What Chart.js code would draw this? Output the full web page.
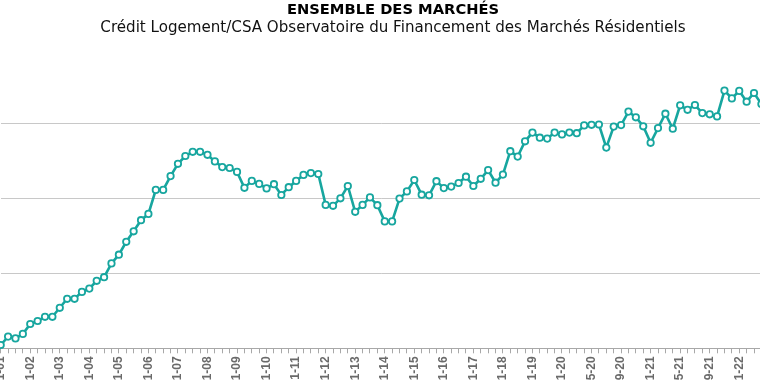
<!DOCTYPE html>
<html>
<head>
<meta charset="utf-8">
<script src="https://cdn.jsdelivr.net/npm/chart.js@4"></script>
<style>
  html, body { margin: 0; padding: 0; width: 760px; height: 380px; overflow: hidden; background: #ffffff; }
  #wrap { position: absolute; left: -10px; top: 0; width: 800px; height: 420px; }
</style>
</head>
<body>
<div id="wrap"><canvas id="c" width="800" height="420"></canvas></div>
<script>
const titleText = "ENSEMBLE DES MARCHÉS";
const subtitleText = "Crédit Logement/CSA Observatoire du Financement des Marchés Résidentiels";

const categories = [
  "01-01","04-01","07-01","10-01","01-02","04-02","07-02","10-02","01-03","04-03","07-03","10-03",
  "01-04","04-04","07-04","10-04","01-05","04-05","07-05","10-05","01-06","04-06","07-06","10-06",
  "01-07","04-07","07-07","10-07","01-08","04-08","07-08","10-08","01-09","04-09","07-09","10-09",
  "01-10","04-10","07-10","10-10","01-11","04-11","07-11","10-11","01-12","04-12","07-12","10-12",
  "01-13","04-13","07-13","10-13","01-14","04-14","07-14","10-14","01-15","04-15","07-15","10-15",
  "01-16","04-16","07-16","10-16","01-17","04-17","07-17","10-17","01-18","04-18","07-18","10-18",
  "01-19","04-19","07-19","10-19",
  "01-20","02-20","03-20","04-20","05-20","06-20","07-20","08-20","09-20","10-20","11-20","12-20",
  "01-21","02-21","03-21","04-21","05-21","06-21","07-21","08-21","09-21","10-21","11-21","12-21",
  "01-22","02-22","03-22","04-22"
];

const values = [
  151.1,153.9,153.3,154.8,158.1,159.1,160.5,160.5,163.5,166.5,
  166.5,168.8,169.9,172.5,173.7,178.3,181.2,185.5,189.0,192.7,
  194.8,202.8,202.8,207.4,211.5,214.1,215.5,215.5,214.5,212.3,
  210.4,210.1,208.8,203.5,205.8,204.8,203.3,204.7,201.1,203.7,
  205.8,207.8,208.4,208.1,197.8,197.5,200.0,204.1,195.5,197.8,
  200.3,197.7,192.3,192.3,199.9,202.3,206.1,201.2,201.0,205.7,
  203.4,203.9,205.1,207.2,204.1,206.5,209.4,205.2,207.9,215.7,
  213.9,219.0,221.9,220.2,219.9,221.9,221.3,221.9,221.7,224.3,
  224.5,224.6,216.9,223.9,224.4,228.9,227.0,224.0,218.5,223.4,
  228.2,223.2,231.0,229.5,231.1,228.4,228.0,227.3,235.9,233.3,
  235.8,232.2,235.1,231.4
];

const yTicks = [150, 175, 200, 225];
const yMin = 150, yMax = 250;
const labelEvery = 4;

new Chart(document.getElementById('c'), {
  type: 'line',
  data: {
    labels: categories,
    datasets: [{
      data: values,
      borderColor: '#17a69f',
      borderWidth: 2.6,
      pointRadius: 3.2,
      pointBorderWidth: 1.8,
      pointBackgroundColor: '#ffffff',
      pointBorderColor: '#17a69f',
      tension: 0,
      clip: false
    }]
  },
  options: {
    responsive: false,
    animation: false,
    devicePixelRatio: 1,
    layout: { padding: { left: 10.7, right: 4.7, top: 0, bottom: 0 } },
    plugins: {
      legend: { display: false },
      tooltip: { enabled: false },
      title: {
        display: true, text: titleText, color: '#000000',
        font: { family: 'DejaVu Sans', size: 14.7, weight: 'bold', lineHeight: 1.2 },
        padding: { top: 1, bottom: 0 }
      },
      subtitle: {
        display: true, text: subtitleText, color: '#111111',
        font: { family: 'DejaVu Sans', size: 15.1, weight: 'normal', lineHeight: 1.2 },
        padding: { top: 0, bottom: 11.54 }
      }
    },
    scales: {
      x: {
        offset: false,
        grid: { display: true, drawOnChartArea: false, drawTicks: true, tickLength: 5, color: '#a8a8a8' },
        border: { display: true, color: '#a8a8a8', width: 1 },
        ticks: {
          autoSkip: false, minRotation: 90, maxRotation: 90, padding: 3,
          color: '#6a6a6a', font: { family: 'Liberation Sans', size: 12, weight: 'bold' },
          callback: function(v, i) { return i % labelEvery === 0 ? categories[i] : ''; }
        },
        afterFit: function(s) { s.height = 71.7; }
      },
      y: {
        position: 'left',
        min: yMin, max: yMax,
        afterBuildTicks: function(s) { s.ticks = yTicks.map(v => ({ value: v })); },
        grid: { color: '#c8c8c8', lineWidth: 1, drawTicks: false },
        border: { display: false },
        ticks: { display: false },
        afterFit: function(s) { s.width = 0; }
      },
      yR: {
        position: 'right',
        display: true,
        grid: { display: false, drawTicks: false },
        border: { display: false },
        ticks: { display: false },
        afterFit: function(s) { s.width = 23.9; }
      }
    }
  }
});
</script>
</body>
</html>
